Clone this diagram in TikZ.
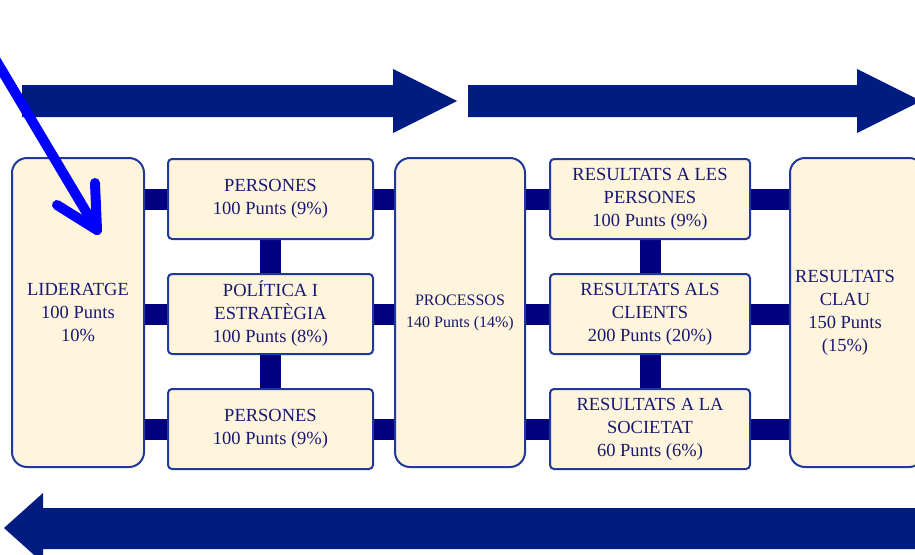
\documentclass[tikz,border=0pt]{standalone}
\usepackage{fontspec}
\setmainfont{Liberation Serif}
\usetikzlibrary{positioning,backgrounds}

\definecolor{boxfill}{RGB}{255,245,220}
\definecolor{boxline}{RGB}{32,56,154}
\definecolor{textblue}{RGB}{24,24,116}
\definecolor{barblue}{RGB}{0,0,128}
\definecolor{arrowblue}{RGB}{0,28,128}
\definecolor{penblue}{RGB}{0,0,255}

\begin{document}
\begin{tikzpicture}[x=1pt,y=-1pt,node distance=33pt,
   box/.style={draw=boxline,line width=2pt,fill=boxfill,text=textblue,align=center,
     font=\fontsize{18.5}{23}\selectfont,inner sep=0pt},
   bigbox/.style={box,rounded corners=15pt,minimum width=132pt,minimum height=309pt},
   smallbox/.style={box,rounded corners=4pt,minimum width=205pt,minimum height=80pt},
   resbox/.style={smallbox,minimum width=200pt},
   bar/.style={draw=barblue,line width=21pt},
   bigarrow/.style={fill=arrowblue},
   pen/.style={draw=penblue,line width=10pt,line cap=round,line join=round}]
   \useasboundingbox (0,0) rectangle (915,554);
   \clip (0,0) rectangle (915,554);

   % big arrows
   \fill[bigarrow] (22,85) -- (393,85) -- (393,69) -- (457,101) -- (393,133) -- (393,117) -- (22,117) -- cycle;
   \fill[bigarrow] (468,85) -- (857,85) -- (857,69) -- (921,101) -- (857,133) -- (857,117) -- (468,117) -- cycle;
   \fill[bigarrow] (4,528) -- (43,493) -- (43,508) -- (930,508) -- (930,549) -- (43,549) -- (43,563) -- cycle;

   % boxes
   \node[bigbox] (lid) at (78,312.5) {LIDERATGE\\100 Punts\\10\%};
   \node[smallbox] (per1) at (270.5,199) {PERSONES\\100 Punts (9\%)};
   \node[smallbox] (pol) [below=of per1] {POLÍTICA I\\ESTRATÈGIA\\100 Punts (8\%)};
   \node[smallbox] (per2) [below=of pol] {PERSONES\\100 Punts (9\%)};
   \node[bigbox,minimum width=130pt,font=\fontsize{16}{22}\selectfont] (proc) at (460,312.5) {PROCESSOS\\140 Punts (14\%)};
   \node[resbox] (res1) at (650,199) {RESULTATS A LES\\PERSONES\\100 Punts (9\%)};
   \node[resbox] (res2) [below=of res1] {RESULTATS ALS\\CLIENTS\\200 Punts (20\%)};
   \node[resbox] (res3) [below=of res2] {RESULTATS A LA\\SOCIETAT\\60 Punts (6\%)};
   \node[bigbox,minimum width=134pt,
     label={[xshift=-12pt,text=textblue,align=center,font=\fontsize{18.5}{23}\selectfont]center:RESULTATS\\CLAU\\150 Punts\\(15\%)}]
     (clau) at (857,312.5) {};

   % bars
   \begin{scope}[on background layer]
   \path[bar]
    (lid.east |- per1) edge (per1.west)
    (lid.east |- pol) edge (pol.west)
    (lid.east |- per2) edge (per2.west)
    (per1.south) edge (pol.north)
    (pol.south) edge (per2.north)
    (per1.east) edge (proc.west |- per1)
    (pol.east) edge (proc.west |- pol)
    (per2.east) edge (proc.west |- per2)
    (proc.east |- res1) edge (res1.west)
    (proc.east |- res2) edge (res2.west)
    (proc.east |- res3) edge (res3.west)
    (res1.south) edge (res2.north)
    (res2.south) edge (res3.north)
    (res1.east) edge (clau.west |- res1)
    (res2.east) edge (clau.west |- res2)
    (res3.east) edge (clau.west |- res3);
   \end{scope}

   % pointer
   \coordinate (penstart) at (-12,47);
   \coordinate (pentip) at (97,230);
   \draw[pen] (penstart) -- (pentip);
   \draw[pen] ([shift={(-2,-47)}]pentip) -- (pentip) -- ([shift={(-40,-25)}]pentip);
\end{tikzpicture}
\end{document}
